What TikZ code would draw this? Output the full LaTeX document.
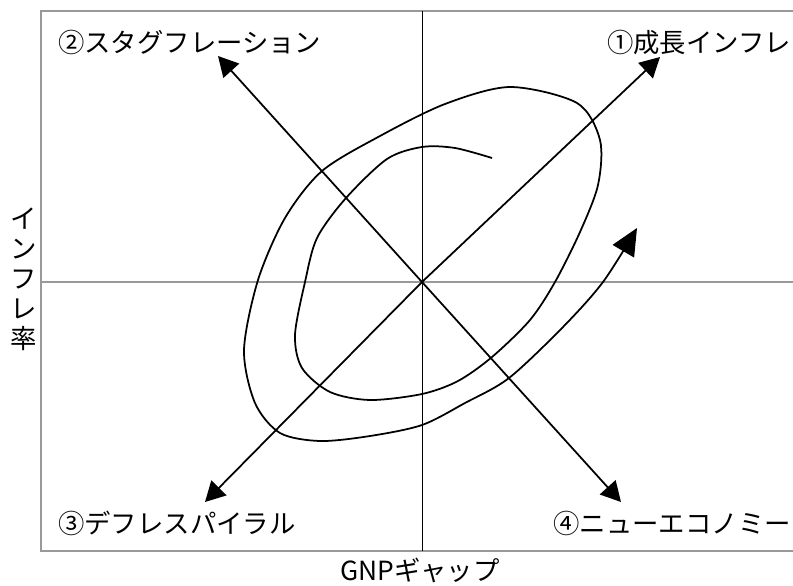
\documentclass[tikz,border=0pt]{standalone}
\usepackage{fontspec}
\setmainfont{Noto Sans CJK JP}
\usetikzlibrary{arrows.meta}
\tikzset{
    trendarrow/.style={-{Triangle[length=17pt,width=18pt]}, line width=1.5pt},
    spiralarrow/.style={-{Triangle[length=23pt,width=21pt]}, line width=1.5pt},
    axisline/.style={gray!80, line width=0.9pt},
    quadtext/.style={font=\fontsize{22.5}{25.6}\selectfont, inner sep=0pt}
}

\begin{document}
\begin{tikzpicture}[x=0.03cm, y=-0.03cm]
    \clip (0,0) rectangle (793,585);
    \draw[axisline] (793,11) -- (41,11) -- (41,551) -- (793,551);
    \draw[axisline] (41,282) -- (793,282);
    \draw[line width=0.8pt] (422,11) -- (422,551);

    \node[quadtext, anchor=east] (n1) at (791,42) {①成長インフレ};
    \node[quadtext, anchor=west] (n2) at (58,42) {②スタグフレーション};
    \node[quadtext, anchor=west] (n3) at (58,523) {③デフレスパイラル};
    \node[quadtext, anchor=east] (n4) at (791,523) {④ニューエコノミー};
    \node[quadtext, align=center] (ylab) at (24,279) {イ\\ン\\フ\\レ\\率};
    \node[quadtext] (xlab) at (420,570) {GNPギャップ};

    \coordinate (o) at (422,282);
    \coordinate (1) at (660,57);
    \coordinate (2) at (218,56);
    \coordinate (3) at (205,502);
    \coordinate (4) at (621,502);
    \path [trendarrow](o) edge (1);
    \path [trendarrow](o) edge (2);
    \path [trendarrow](o) edge (3);
    \path [trendarrow](o) edge (4);

    % spiral
    \draw[spiralarrow] plot[smooth, tension=0.5] coordinates {
        (492,158) (455,148) (422,147) (387,159) (346,198) (317,238)
        (305,282) (295,335) (302,368) (330,392) (370,400) (422,394)
        (458,381) (492,357) (530,320) (555,282) (580,232) (598,185) (600,140)
        (577,103) (510,87) (445,104) (380,136) (322,171) (285,218)
        (258,280) (244,350) (255,403) (280,433) (320,441) (370,436)
        (422,425) (465,403) (509,378) (563,327) (603,282) (637,228)};
\end{tikzpicture}
\end{document}
